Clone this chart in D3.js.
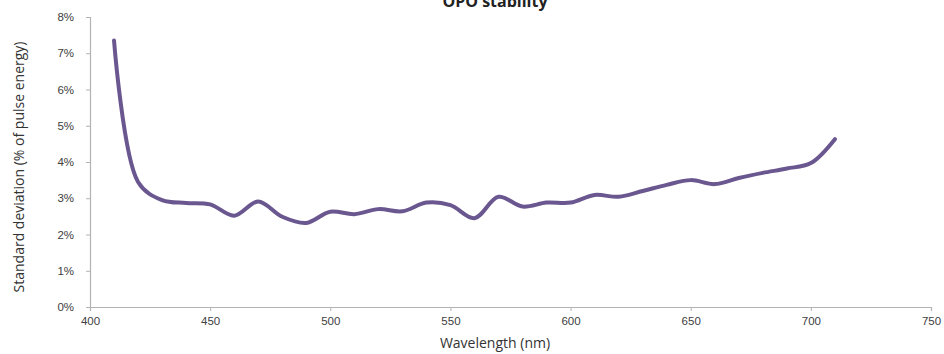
<!DOCTYPE html>
<html>
<head>
<meta charset="utf-8">
<script src="https://cdn.jsdelivr.net/npm/d3@7"></script>
<style>
  html, body { margin: 0; padding: 0; background: #fff; }
  svg { display: block; }
</style>
</head>
<body>
<svg id="chart" width="944" height="354"></svg>
<script>
// OPO pulse-energy stability across the tuning range
const wavelengths = [410, 420, 430, 440, 450, 460, 470, 480, 490, 500, 510, 520, 530, 540, 550,
                     560, 570, 580, 590, 600, 610, 620, 630, 640, 650, 660, 670, 680, 690, 700, 710];
const stdDev = [7.35, 3.45, 2.95, 2.87, 2.83, 2.52, 2.91, 2.49, 2.32, 2.63, 2.56, 2.70, 2.64, 2.88, 2.81,
                2.45, 3.04, 2.77, 2.88, 2.88, 3.09, 3.04, 3.20, 3.37, 3.50, 3.39, 3.56, 3.70, 3.82, 3.97, 4.63];
const xTicks = [400, 450, 500, 550, 600, 650, 700, 750];
const yTicks = [0, 1, 2, 3, 4, 5, 6, 7, 8];

const svg = d3.select("#chart");
const margin = { left: 90, right: 13, top: 17, bottom: 47 };
const W = 944, H = 354;

const x = d3.scaleLinear().domain([400, 750]).range([margin.left, W - margin.right]);
const y = d3.scaleLinear().domain([0, 8]).range([H - margin.bottom, margin.top]);

const axisColor = "#b3b3b3";
const tickText = "#404040";

// x axis
const gx = svg.append("g")
  .attr("transform", `translate(0,${y(0)})`)
  .call(d3.axisBottom(x).tickValues(xTicks).tickSize(4).tickPadding(6).tickFormat(d3.format("d")));
// y axis
const gy = svg.append("g")
  .attr("transform", `translate(${x(400)},0)`)
  .call(d3.axisLeft(y).tickValues(yTicks).tickSize(4).tickPadding(12).tickFormat(d => d + "%"));

[gx, gy].forEach(g => {
  g.select(".domain").attr("stroke", axisColor).attr("stroke-width", 1.2);
  g.selectAll(".tick line").attr("stroke", axisColor);
  g.selectAll(".tick text")
    .attr("fill", tickText)
    .style("font-family", "Arial, 'Liberation Sans', sans-serif")
    .style("font-size", "11.5px");
});

// data line, smoothed
const line = d3.line()
  .x((d, i) => x(wavelengths[i]))
  .y(d => y(d))
  .curve(d3.curveCatmullRom.alpha(0.5));

svg.append("path")
  .datum(stdDev)
  .attr("fill", "none")
  .attr("stroke", "#6a578f")
  .attr("stroke-width", 4)
  .attr("stroke-linejoin", "round")
  .attr("stroke-linecap", "round")
  .attr("d", line);

// titles
svg.append("text")
  .attr("x", 495).attr("y", 7)
  .attr("text-anchor", "middle")
  .style("font-family", "'Open Sans', sans-serif")
  .style("font-weight", "bold")
  .style("font-size", "16px")
  .attr("fill", "#222")
  .text("OPO stability");

svg.append("text")
  .attr("x", 495).attr("y", 348)
  .attr("text-anchor", "middle")
  .style("font-family", "'Open Sans', sans-serif")
  .style("font-size", "14px")
  .attr("fill", "#333")
  .text("Wavelength (nm)");

svg.append("text")
  .attr("transform", "translate(24,167) rotate(-90)")
  .attr("text-anchor", "middle")
  .style("font-family", "'Open Sans', sans-serif")
  .style("font-size", "14px")
  .attr("fill", "#333")
  .text("Standard deviation (% of pulse energy)");
</script>
</body>
</html>
